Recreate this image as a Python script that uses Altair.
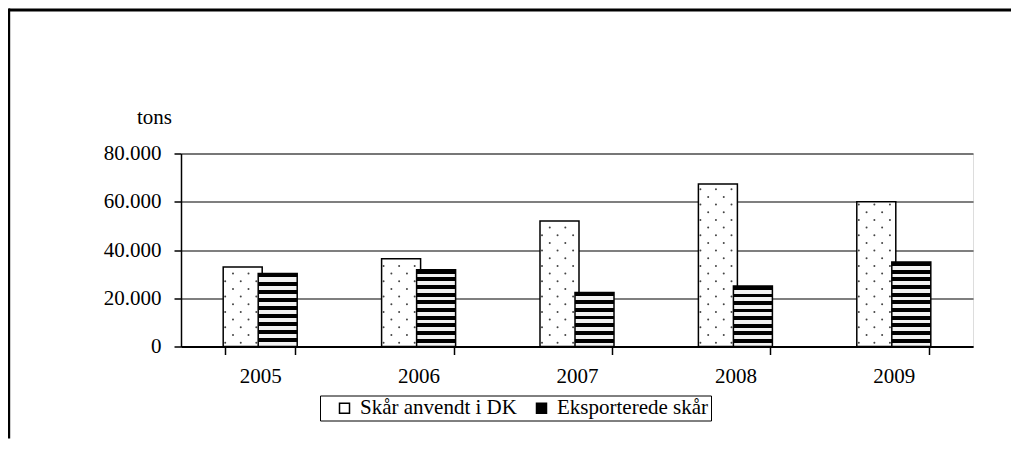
import altair as alt
import pandas as pd

years = ["2005", "2006", "2007", "2008", "2009"]
series_names = ["Skår anvendt i DK", "Eksporterede skår"]
dk_values = [33000, 36400, 52000, 67400, 60000]
export_values = [30300, 31800, 22400, 25100, 35000]
y_ticks = [0, 20000, 40000, 60000, 80000]

rows = []
for yr, a, b in zip(years, dk_values, export_values):
    rows.append({"year": yr, "series": series_names[0], "value": a})
    rows.append({"year": yr, "series": series_names[1], "value": b})
df = pd.DataFrame(rows)

FONT = "Liberation Serif"
FS = 21
PLOT_W, PLOT_H = 792, 193
BAR_W = 39
RIGHT_PAD = 38
BOTTOM_PAD = 92

x_enc = alt.X(
    "year:N",
    sort=years,
    scale=alt.Scale(paddingInner=0.558, paddingOuter=0.279),
    axis=alt.Axis(
        title=None, labelAngle=0, labelFont=FONT, labelFontSize=FS, labelColor="black",
        tickBand="extent", tickColor="black", tickSize=8, tickWidth=1.5,
        domainColor="black", domainWidth=2, labelPadding=11, grid=False,
    ),
)
xoff_enc = alt.XOffset(
    "series:N",
    scale=alt.Scale(domain=series_names, paddingInner=0, paddingOuter=0),
)
y_scale = alt.Scale(domain=[0, 80000], nice=False)
y_enc = alt.Y(
    "value:Q",
    scale=y_scale,
    axis=alt.Axis(
        values=y_ticks,
        labelExpr="datum.value == 0 ? '0' : format(datum.value / 1000, 'd') + '.000'",
        labelFont=FONT, labelFontSize=FS, labelColor="black", labelPadding=13,
        grid=True, gridColor="black", gridWidth=1.2,
        domainColor="black", domainWidth=1.5,
        tickColor="black", tickSize=7, tickWidth=1.5,
        title="tons", titleAngle=0, titleFont=FONT, titleFontSize=FS,
        titleFontWeight="normal", titleColor="black",
        titleX=-27, titleY=-36, titleAlign="center", titleBaseline="middle",
    ),
)

color_enc = alt.Color(
    "series:N",
    scale=alt.Scale(domain=series_names, range=["white", "black"]),
    legend=alt.Legend(
        title=None, orient="none", legendX=139, legendY=242, direction="horizontal",
        strokeColor="black", padding=2, symbolType="square", symbolSize=100,
        symbolStrokeColor="black", symbolStrokeWidth=1.5, symbolOffset=12,
        labelFont=FONT, labelFontSize=FS, labelColor="black", labelOffset=5,
        columnPadding=2,
    ),
)

dk_bars = alt.Chart(df).transform_filter(
    alt.datum.series == series_names[0]
).mark_bar(width=BAR_W, stroke="black", strokeWidth=1.5).encode(
    x=x_enc, xOffset=xoff_enc, y=y_enc, color=color_enc
)

# dotted fill texture of the first series, derived from each bar's value
dots = alt.Chart(df).transform_filter(
    alt.datum.series == series_names[0]
).transform_calculate(
    ys="sequence(1600, datum.value - 900, 3180)"
).transform_flatten(["ys"]).transform_calculate(
    cols="round((datum.ys - 1600) / 3180) % 2 == 0 ? [0, 2, 4] : [1, 3]"
).transform_flatten(["cols"]).mark_circle(
    size=4, color="#444", opacity=1
).encode(
    x=x_enc,
    xOffset=alt.XOffset("cols:O", scale=alt.Scale(domain=list(range(10)), paddingInner=0, paddingOuter=0)),
    y=alt.Y("ys:Q", scale=y_scale),
)

def stripes(value):
    h = value / 80000 * PLOT_H
    n = max(1, round(h / 7.7))
    stops = []
    for i in range(n):
        stops += [
            {"offset": i / n, "color": "black"},
            {"offset": (i + 0.5) / n, "color": "black"},
            {"offset": (i + 0.5) / n, "color": "#f2f2f2"},
            {"offset": (i + 1) / n, "color": "#f2f2f2"},
        ]
    return {"gradient": "linear", "x1": 0, "y1": 0, "x2": 0, "y2": 1, "stops": stops}

export_layers = []
for yr, v in zip(years, export_values):
    export_layers.append(
        alt.Chart(df).transform_filter(
            (alt.datum.series == series_names[1]) & (alt.datum.year == yr)
        ).mark_bar(width=BAR_W, stroke="black", strokeWidth=1.5, fill=stripes(v)).encode(
            x=x_enc, xOffset=xoff_enc, y=y_enc
        )
    )

one = pd.DataFrame({"a": [0]})
frame_top = alt.Chart(one).mark_rule(stroke="black", strokeWidth=3).encode(
    x=alt.value(-172.3), x2=alt.value(PLOT_W + RIGHT_PAD), y=alt.value(-143.5)
)
frame_left = alt.Chart(one).mark_rule(stroke="black", strokeWidth=3).encode(
    x=alt.value(-172.3), y=alt.value(-145), y2=alt.value(PLOT_H + BOTTOM_PAD)
)

chart = alt.layer(dk_bars, dots, *export_layers, frame_top, frame_left).resolve_scale(
    xOffset="independent"
).properties(
    width=PLOT_W, height=PLOT_H,
    padding={"left": 173, "top": 145.5, "right": RIGHT_PAD, "bottom": BOTTOM_PAD},
    autosize=alt.AutoSizeParams(type="none"),
).configure_view(stroke=None).configure(background="white")

chart.save("out.html", embed_options={"renderer": "svg", "actions": False})
